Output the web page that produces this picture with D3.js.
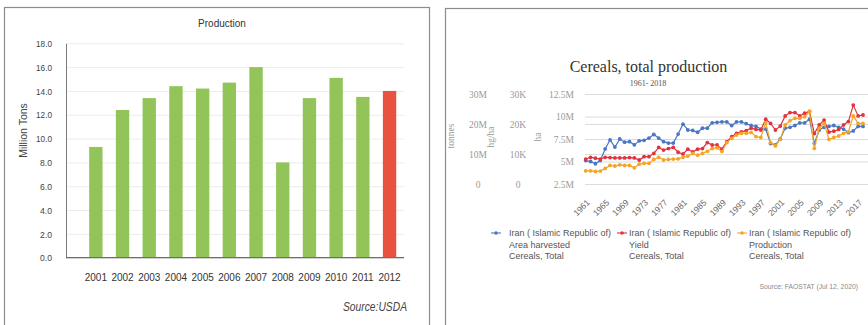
<!DOCTYPE html>
<html>
<head>
<meta charset="utf-8">
<script src="https://cdn.jsdelivr.net/npm/d3@7/dist/d3.min.js"></script>
<style>
  html, body { margin: 0; padding: 0; background: #fff; }
  svg { display: block; }
</style>
</head>
<body>
<svg id="chart" width="868" height="325"></svg>
<script>
// ---------- Left panel: USDA production (million tons) ----------
const prodYears  = ["2001","2002","2003","2004","2005","2006","2007","2008","2009","2010","2011","2012"];
const prodValues = [9.3, 12.4, 13.4, 14.4, 14.2, 14.7, 16.0, 8.0, 13.4, 15.1, 13.5, 14.0];
const prodHighlight = "2012";
const prodTicks  = [0, 2, 4, 6, 8, 10, 12, 14, 16, 18];

// ---------- Right panel: FAOSTAT cereals, Iran ----------
const faoYears = [1961,1962,1963,1964,1965,1966,1967,1968,1969,1970,
                  1971,1972,1973,1974,1975,1976,1977,1978,1979,1980,
                  1981,1982,1983,1984,1985,1986,1987,1988,1989,1990,
                  1991,1992,1993,1994,1995,1996,1997,1998,1999,2000,
                  2001,2002,2003,2004,2005,2006,2007,2008,2009,2010,
                  2011,2012,2013,2014,2015,2016,2017,2018];
// Area harvested, million ha
const areaHarvested = [5.1,5.0,4.75,5.1,6.4,7.4,6.6,7.5,7.15,7.2,
                       6.85,7.3,7.35,7.6,8.0,7.6,7.2,7.05,7.05,8.05,
                       9.15,8.5,8.45,8.25,8.7,8.7,9.3,9.35,9.4,9.4,
                       9.0,9.4,9.4,9.2,9.0,8.9,8.6,8.6,7.0,6.85,
                       7.5,8.7,8.8,9.0,9.3,9.3,9.7,7.0,8.5,8.8,
                       8.9,9.0,8.8,8.6,8.2,8.4,8.9,8.9];
// Yield, thousand hg/ha
const yieldValues = [8.3,8.9,8.6,8.3,8.9,8.8,8.7,8.7,8.7,8.8,
                     8.7,8.0,9.1,9.1,10.2,12.2,11.3,11.8,12.2,10.6,
                     10.0,11.6,10.7,11.6,11.8,13.8,13.0,13.0,11.6,14.1,
                     15.8,16.9,17.4,17.8,18.6,18.2,18.0,21.6,20.2,18.0,
                     19.3,22.7,23.8,23.8,22.7,23.6,24.2,16.8,19.7,21.3,
                     17.3,17.6,18.2,19.7,20.8,26.3,22.7,23.0];
// Production, million tonnes
const productionValues = [4.4,4.4,4.2,4.3,5.2,6.2,6.0,6.4,6.2,6.2,
                          5.4,6.6,6.9,6.9,8.2,8.9,8.0,8.2,8.3,8.4,
                          8.9,9.3,10.2,9.6,10.2,10.9,11.8,12.1,10.8,13.8,
                          15.2,16.3,16.9,16.9,17.2,15.8,15.5,20.4,13.8,12.7,
                          14.9,19.7,21.1,21.9,21.9,22.4,24.1,11.9,18.6,20.2,
                          14.9,15.5,16.0,16.9,17.4,22.7,20.2,20.2];
const faoTickYears   = [1961,1965,1969,1973,1977,1981,1985,1989,1993,1997,2001,2005,2009,2013,2017];
const tonnesTicks    = [0, 10, 20, 30];
const yieldTicks     = [0, 10, 20, 30];
const areaTicks      = [2.5, 5, 7.5, 10, 12.5];
const seriesNames    = ["Area harvested", "Yield", "Production"];
const seriesColors   = ["#4a76c4", "#e2323e", "#f6a424"];

const svg = d3.select("#chart");
const SANS = "'Liberation Sans', Arial, sans-serif";
const SERIF = "'Liberation Serif', 'Times New Roman', serif";

// panel frames
svg.append("rect").attr("x", 4.5).attr("y", 7.5).attr("width", 425).attr("height", 340)
  .attr("fill", "none").attr("stroke", "#8c8c8c").attr("stroke-width", 1.2);
svg.append("rect").attr("x", 445.5).attr("y", 8.5).attr("width", 440).attr("height", 340)
  .attr("fill", "none").attr("stroke", "#8c8c8c").attr("stroke-width", 1.2);

// ================= Left: bar chart =================
(function () {
  const g = svg.append("g");
  const left = 66, right = 404, top = 43.3, bottom = 257.7;
  const x = d3.scaleBand().domain(prodYears).range([82.5, 402.9]).paddingInner(0.5).paddingOuter(0.25);
  const y = d3.scaleLinear().domain([0, 18]).range([bottom, top]);

  // horizontal grid
  g.append("g").attr("transform", `translate(${left},0)`)
    .call(d3.axisLeft(y).tickValues(prodTicks).tickSize(-(right - left)).tickFormat(""))
    .call(s => s.select(".domain").remove())
    .call(s => s.selectAll("line").attr("stroke", "#ececec"));

  // y axis labels + line (slightly condensed numerals)
  g.append("g").attr("transform", `translate(${left},0)`)
    .call(d3.axisLeft(y).tickValues(prodTicks).tickSize(0).tickPadding(14).tickFormat(d3.format(".1f")))
    .call(s => s.select(".domain").attr("stroke", "#7a7a7a"))
    .call(s => s.selectAll("text").attr("font-family", SANS).attr("font-size", 9.8).attr("fill", "#444")
      .attr("textLength", function () { return this.textContent.length === 4 ? 16 : 12; })
      .attr("lengthAdjust", "spacingAndGlyphs"));

  // bars
  g.selectAll("rect.bar").data(prodYears).enter().append("rect")
    .attr("class", "bar")
    .attr("x", d => x(d))
    .attr("width", x.bandwidth())
    .attr("y", (d, i) => y(prodValues[i]))
    .attr("height", (d, i) => y(0) - y(prodValues[i]))
    .attr("fill", d => d === prodHighlight ? "#e9523e" : "#93c45a");

  // baseline
  g.append("line").attr("x1", left).attr("x2", right).attr("y1", bottom).attr("y2", bottom)
    .attr("stroke", "#6f6f6f").attr("stroke-width", 1.2);

  // x labels
  g.append("g").attr("transform", `translate(0,${bottom})`)
    .call(d3.axisBottom(x).tickSize(0).tickPadding(16))
    .call(s => s.select(".domain").remove())
    .call(s => s.selectAll("text").attr("font-family", SANS).attr("font-size", 10).attr("fill", "#333"));

  g.append("text").attr("x", 222).attr("y", 26.5).attr("text-anchor", "middle")
    .attr("font-family", SANS).attr("font-size", 10).attr("fill", "#333").text("Production");

  g.append("text").attr("transform", "translate(27,130.5) rotate(-90)").attr("text-anchor", "middle")
    .attr("font-family", SANS).attr("font-size", 10.5).attr("fill", "#444").text("Million Tons");

  g.append("text").attr("x", 407).attr("y", 311).attr("text-anchor", "end")
    .attr("font-family", SANS).attr("font-size", 12.5).attr("font-style", "italic")
    .attr("textLength", 64).attr("lengthAdjust", "spacingAndGlyphs")
    .attr("fill", "#444").text("Source:USDA");
})();

// ================= Right: FAOSTAT line chart =================
(function () {
  const g = svg.append("g");
  const plotLeft = 585, plotRight = 868, top = 94, bottom = 184;
  const x = d3.scaleLinear().domain([1961, 2018]).range([585.7, 863]);
  const yT = d3.scaleLinear().domain([0, 30]).range([bottom, top]);      // tonnes (M)
  const yY = d3.scaleLinear().domain([0, 30]).range([bottom, top]);      // hg/ha (K)
  const yA = d3.scaleLinear().domain([2.5, 12.5]).range([bottom, top]);  // ha (M)

  // grid lines from both the tonnes and ha axes
  [[yA, areaTicks], [yT, tonnesTicks]].forEach(([sc, ticks]) => {
    g.append("g").attr("transform", `translate(${plotLeft},0)`)
      .call(d3.axisLeft(sc).tickValues(ticks).tickSize(-(plotRight - plotLeft)).tickFormat(""))
      .call(s => s.select(".domain").remove())
      .call(s => s.selectAll("line").attr("stroke", "#dcdcdc").attr("stroke-width", 1));
  });

  const axisText = s => s.selectAll("text").attr("font-family", SERIF).attr("font-size", 9.5).attr("fill", "#9a9a9a");

  // tonnes axis
  g.append("g").attr("transform", "translate(478,0)")
    .call(d3.axisLeft(yT).tickValues(tonnesTicks).tickSize(0).tickPadding(0)
      .tickFormat(d => d === 0 ? "0" : d + "M"))
    .call(s => s.select(".domain").remove())
    .call(axisText)
    .call(s => s.selectAll("text").attr("text-anchor", "middle").attr("x", 0));
  // hg/ha axis
  g.append("g").attr("transform", "translate(518,0)")
    .call(d3.axisLeft(yY).tickValues(yieldTicks).tickSize(0).tickPadding(0)
      .tickFormat(d => d === 0 ? "0" : d + "K"))
    .call(s => s.select(".domain").remove())
    .call(axisText)
    .call(s => s.selectAll("text").attr("text-anchor", "middle").attr("x", 0));
  // ha axis
  g.append("g").attr("transform", "translate(574,0)")
    .call(d3.axisLeft(yA).tickValues(areaTicks).tickSize(0).tickPadding(0)
      .tickFormat(d => d + "M"))
    .call(s => s.select(".domain").remove())
    .call(axisText);

  // axis titles
  [["tonnes", 454, 136], ["hg/ha", 494, 137], ["ha", 541, 137]].forEach(([t, cx, cy]) => {
    g.append("text").attr("transform", `translate(${cx},${cy}) rotate(-90)`)
      .attr("text-anchor", "middle").attr("font-family", SERIF).attr("font-size", 9.5)
      .attr("fill", "#9a9a9a").text(t);
  });

  // x axis (rotated year labels)
  g.append("g").attr("transform", `translate(0,${bottom})`)
    .call(d3.axisBottom(x).tickValues(faoTickYears).tickSize(0).tickFormat(d3.format("d")))
    .call(s => s.select(".domain").remove())
    .call(s => s.selectAll("text")
      .attr("x", 0).attr("y", 0).attr("dy", "0.35em")
      .attr("transform", "translate(2,17) rotate(-45)")
      .attr("text-anchor", "end")
      .attr("font-family", SANS).attr("font-size", 8.5).attr("fill", "#666"));

  // series
  const series = [
    { values: areaHarvested,    y: yA, color: seriesColors[0] },
    { values: yieldValues,      y: yY, color: seriesColors[1] },
    { values: productionValues, y: yT, color: seriesColors[2] }
  ];
  series.forEach(s => {
    const pts = faoYears.map((yr, i) => [yr, s.values[i]]);
    g.append("path").datum(pts)
      .attr("fill", "none").attr("stroke", s.color).attr("stroke-width", 1.2)
      .attr("d", d3.line().x(d => x(d[0])).y(d => s.y(d[1])));
    g.selectAll(null).data(pts).enter().append("circle")
      .attr("cx", d => x(d[0])).attr("cy", d => s.y(d[1])).attr("r", 1.9)
      .attr("fill", s.color);
  });

  // titles
  g.append("text").attr("x", 648.5).attr("y", 72).attr("text-anchor", "middle")
    .attr("font-family", SERIF).attr("font-size", 16).attr("fill", "#333")
    .text("Cereals, total production");
  g.append("text").attr("x", 648).attr("y", 85.5).attr("text-anchor", "middle")
    .attr("font-family", SERIF).attr("font-size", 8).attr("fill", "#555")
    .text("1961- 2018");

  // legend
  const legendMarkX = [496, 622, 742];
  const legendTextX = [509, 629, 749];
  seriesNames.forEach((name, i) => {
    const lg = g.append("g").attr("transform", `translate(${legendMarkX[i]},233)`);
    lg.append("line").attr("x1", -5).attr("x2", 5).attr("y1", 0).attr("y2", 0)
      .attr("stroke", seriesColors[i]).attr("stroke-width", 1.1);
    lg.append("circle").attr("r", 1.8).attr("fill", seriesColors[i]);
    const tx = legendTextX[i] - legendMarkX[i];
    const t = lg.append("text").attr("x", tx).attr("y", 3.2)
      .attr("font-family", SANS).attr("font-size", 9).attr("fill", "#555");
    ["Iran ( Islamic Republic of)", name, "Cereals, Total"].forEach((line, k) => {
      t.append("tspan").attr("x", tx).attr("dy", k === 0 ? 0 : 11.4).text(line);
    });
  });

  g.append("text").attr("x", 858).attr("y", 288.5).attr("text-anchor", "end")
    .attr("font-family", SANS).attr("font-size", 6.8).attr("fill", "#8a8a8a")
    .text("Source: FAOSTAT (Jul 12, 2020)");
})();
</script>
</body>
</html>
